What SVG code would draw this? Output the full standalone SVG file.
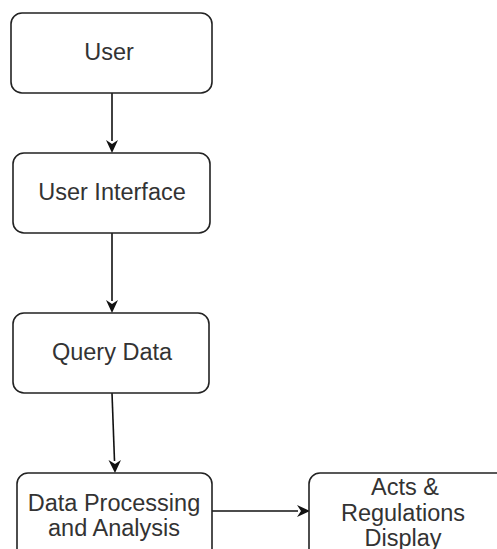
<svg xmlns="http://www.w3.org/2000/svg" width="497" height="549" viewBox="0 0 497 549">
<defs>
<style>
.box{fill:#fff;stroke:#222;stroke-width:1.6}
.lbl{font-family:"Liberation Sans",Arial,sans-serif;font-size:23.5px;fill:#333;text-anchor:middle}
.edge{stroke:#111;stroke-width:1.6;fill:none}
.head{fill:#111}
</style>
</defs>
<rect width="497" height="549" fill="#fff"/>
<g id="connectors">
<path class="edge" d="M112,93 L112,141"/>
<path class="head" d="M106,140 L112,153 L118,140 L112,144 Z"/>
<path class="edge" d="M112,233 L112,301"/>
<path class="head" d="M106,300 L112,313 L118,300 L112,304 Z"/>
<path class="edge" d="M112,393 L114.5,461"/>
<path class="head" d="M108.5,460 L115,473 L121,460 L115,464 Z"/>
<path class="edge" d="M212,511 L298,511"/>
<path class="head" d="M297,505 L310,511 L297,517 L301,511 Z"/>
</g>
<g id="user">
<rect class="box" x="11" y="13" width="201" height="80" rx="11"/>
<text class="lbl" x="109" y="60">User</text>
</g>
<g id="ui">
<rect class="box" x="13" y="153" width="197" height="80" rx="11"/>
<text class="lbl" x="112" y="200">User Interface</text>
</g>
<g id="query">
<rect class="box" x="13" y="313" width="196" height="80" rx="11"/>
<text class="lbl" x="112" y="360">Query Data</text>
</g>
<g id="processing">
<rect class="box" x="17" y="473" width="195" height="90" rx="11"/>
<text class="lbl" x="114" y="511">Data Processing</text>
<text class="lbl" x="114" y="536">and Analysis</text>
</g>
<g id="display">
<rect class="box" x="309" y="473" width="198" height="90" rx="11"/>
<text class="lbl" x="405" y="495">Acts &amp;</text>
<text class="lbl" x="403" y="521">Regulations</text>
<text class="lbl" x="403" y="546">Display</text>
</g>
</svg>
